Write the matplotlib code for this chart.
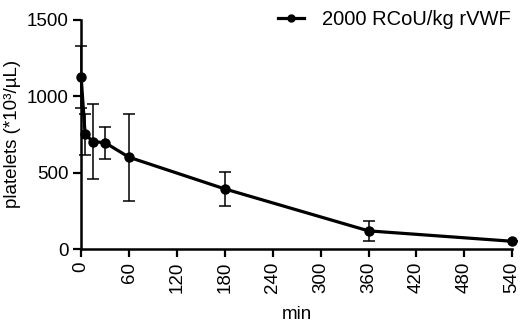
import numpy as np
import matplotlib
matplotlib.use('Agg')
import matplotlib.pyplot as plt
from matplotlib.lines import Line2D

plt.rcParams['font.family'] = ['Liberation Sans', 'DejaVu Sans']

# time points (min) and platelet counts (*10^3/uL) with SD
time_min = [0, 5, 15, 30, 60, 180, 360, 540]
platelets = [1127, 751, 703, 696, 601, 394, 120, 52]
sd = [203, 133, 246, 104, 283, 110, 65, 0]
x_ticks = [0, 60, 120, 180, 240, 300, 360, 420, 480, 540]
y_ticks = [0, 500, 1000, 1500]
series_label = '2000 RCoU/kg rVWF'

fig = plt.figure(figsize=(5.2, 3.22), dpi=100)
ax = fig.add_axes([0.156, 0.226, 0.829, 0.713])

ax.errorbar(time_min, platelets, yerr=sd, color='black', lw=2.3, marker='o',
            markersize=6.5, elinewidth=1.1, capsize=4.5, capthick=1.1,
            clip_on=False, zorder=3)

ax.set_xlim(0, 540)
ax.set_ylim(0, 1500)
ax.set_xticks(x_ticks)
ax.set_yticks(y_ticks)
ax.set_xticklabels([str(t) for t in x_ticks], rotation=90)
ax.tick_params(labelsize=13.5, width=1.6, length=6, direction='out', pad=3)

for s in ['top', 'right']:
    ax.spines[s].set_visible(False)
for s in ['left', 'bottom']:
    ax.spines[s].set_linewidth(1.8)

ax.set_xlabel('min', fontsize=13.5, labelpad=9)
ax.set_ylabel('platelets (*10³/µL)', fontsize=13.5, labelpad=4)

# legend: line with marker only
handle = Line2D([], [], color='black', lw=2.3, marker='o', markersize=5)
fig.legend([handle], [series_label], loc='upper right', bbox_to_anchor=(1.018, 1.025),
           frameon=False, fontsize=14.5, handlelength=1.3, handletextpad=0.9)

fig.savefig('out.png', dpi=100)
